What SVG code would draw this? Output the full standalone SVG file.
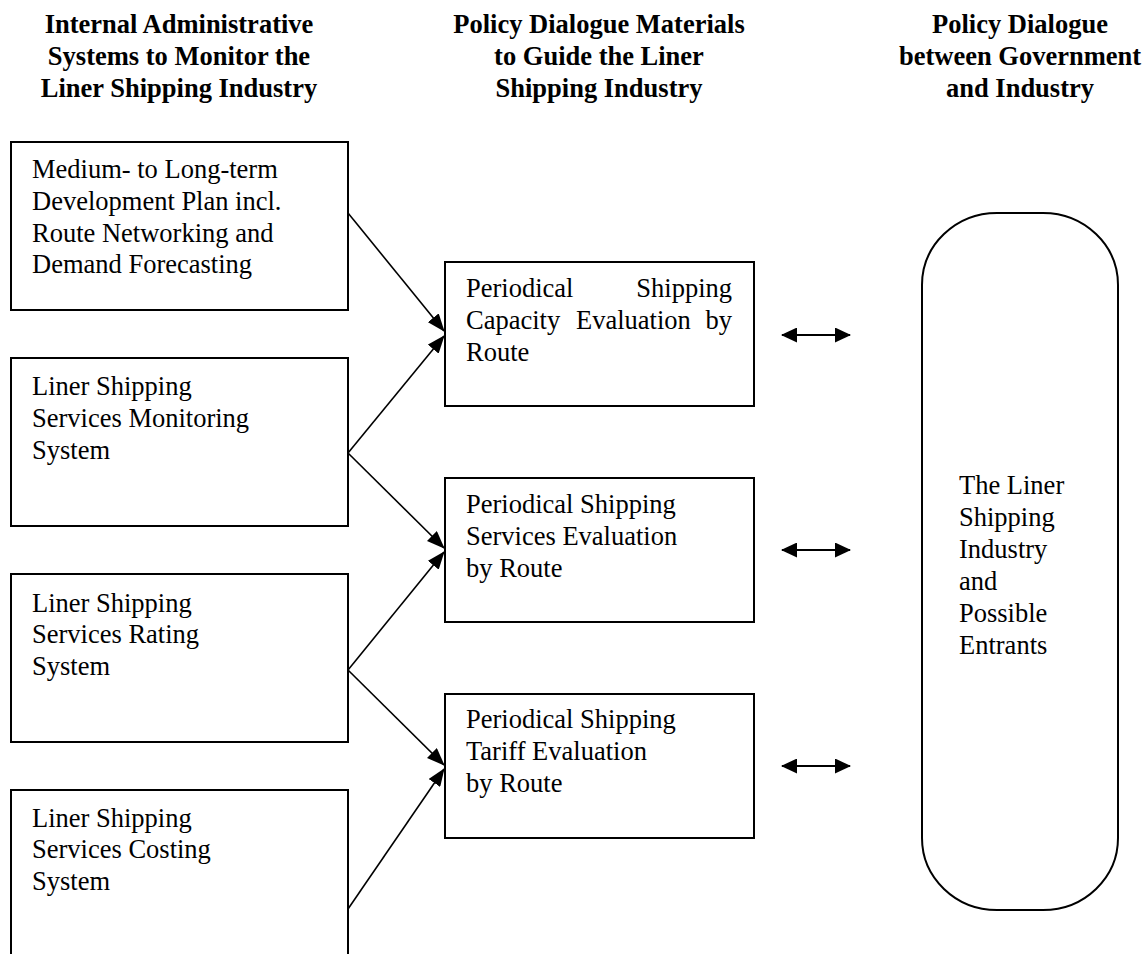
<svg xmlns="http://www.w3.org/2000/svg" width="1147" height="954" viewBox="0 0 1147 954">
<style>
text{font-family:"Liberation Serif","Times New Roman",serif;font-size:26.5px;fill:#000}
.h{font-weight:bold;text-anchor:middle}
.box{fill:#fff;stroke:#000;stroke-width:2}
.c{stroke:#000;stroke-width:1.6;fill:none}
.d{stroke:#000;stroke-width:2.2;fill:none}
</style>
<defs>
<marker id="ah" markerUnits="userSpaceOnUse" markerWidth="18" markerHeight="14" refX="17" refY="7" orient="auto" viewBox="0 0 18 14">
<path d="M0,0 L18,7 L0,14 Z" fill="#000"/>
</marker>
<marker id="ahs" markerUnits="userSpaceOnUse" markerWidth="16" markerHeight="15" refX="15" refY="7.5" orient="auto-start-reverse" viewBox="0 0 16 15">
<path d="M0,0 L16,7.5 L0,15 Z" fill="#000"/>
</marker>
</defs>
<g id="headers">
<text class="h" x="179" y="33">Internal Administrative</text>
<text class="h" x="179" y="65">Systems to Monitor the</text>
<text class="h" x="179" y="97">Liner Shipping Industry</text>
<text class="h" x="599" y="33">Policy Dialogue Materials</text>
<text class="h" x="599" y="65">to Guide the Liner</text>
<text class="h" x="599" y="97">Shipping Industry</text>
<text class="h" x="1020" y="33">Policy Dialogue</text>
<text class="h" x="1020" y="65">between Government</text>
<text class="h" x="1020" y="97">and Industry</text>
</g>
<g id="plan">
<rect class="box" x="11" y="142" width="337" height="168"/>
<text x="32" y="178">Medium- to Long-term</text>
<text x="32" y="210">Development Plan incl.</text>
<text x="32" y="241.5">Route Networking and</text>
<text x="32" y="273">Demand Forecasting</text>
</g>
<g id="monitoring">
<rect class="box" x="11" y="358" width="337" height="168"/>
<text x="32" y="395">Liner Shipping</text>
<text x="32" y="427">Services Monitoring</text>
<text x="32" y="458.5">System</text>
</g>
<g id="rating">
<rect class="box" x="11" y="574" width="337" height="168"/>
<text x="32" y="611.5">Liner Shipping</text>
<text x="32" y="643">Services Rating</text>
<text x="32" y="675">System</text>
</g>
<g id="costing">
<rect class="box" x="11" y="790" width="337" height="170"/>
<text x="32" y="826.5">Liner Shipping</text>
<text x="32" y="858">Services Costing</text>
<text x="32" y="890">System</text>
</g>
<g id="capacity">
<rect class="box" x="445" y="262" width="309" height="144"/>
<text x="466" y="296.5">Periodical</text>
<text x="732" y="296.5" text-anchor="end">Shipping</text>
<text x="466" y="329">Capacity</text>
<text x="576" y="329">Evaluation</text>
<text x="732" y="329" text-anchor="end">by</text>
<text x="466" y="360.5">Route</text>
</g>
<g id="services">
<rect class="box" x="445" y="478" width="309" height="144"/>
<text x="466" y="513">Periodical Shipping</text>
<text x="466" y="545">Services Evaluation</text>
<text x="466" y="576.5">by Route</text>
</g>
<g id="tariff">
<rect class="box" x="445" y="694" width="309" height="144"/>
<text x="466" y="728">Periodical Shipping</text>
<text x="466" y="760">Tariff Evaluation</text>
<text x="466" y="791.5">by Route</text>
</g>
<g id="industry">
<rect class="box" x="922" y="213" width="196" height="697" rx="75" ry="72"/>
<text x="959" y="494">The Liner</text>
<text x="959" y="526">Shipping</text>
<text x="959" y="558">Industry</text>
<text x="959" y="590">and</text>
<text x="959" y="622">Possible</text>
<text x="959" y="654">Entrants</text>
</g>
<g id="connectors">
<line class="c" x1="348" y1="213" x2="444" y2="331" marker-end="url(#ah)"/>
<line class="c" x1="348" y1="453" x2="444" y2="336" marker-end="url(#ah)"/>
<line class="c" x1="348" y1="453" x2="444" y2="548" marker-end="url(#ah)"/>
<line class="c" x1="348" y1="670" x2="444" y2="552" marker-end="url(#ah)"/>
<line class="c" x1="348" y1="670" x2="444" y2="765" marker-end="url(#ah)"/>
<line class="c" x1="348" y1="909" x2="444" y2="769" marker-end="url(#ah)"/>
<line class="d" x1="782" y1="335" x2="850" y2="335" marker-start="url(#ahs)" marker-end="url(#ahs)"/>
<line class="d" x1="782" y1="550" x2="850" y2="550" marker-start="url(#ahs)" marker-end="url(#ahs)"/>
<line class="d" x1="782" y1="766" x2="850" y2="766" marker-start="url(#ahs)" marker-end="url(#ahs)"/>
</g>
</svg>
